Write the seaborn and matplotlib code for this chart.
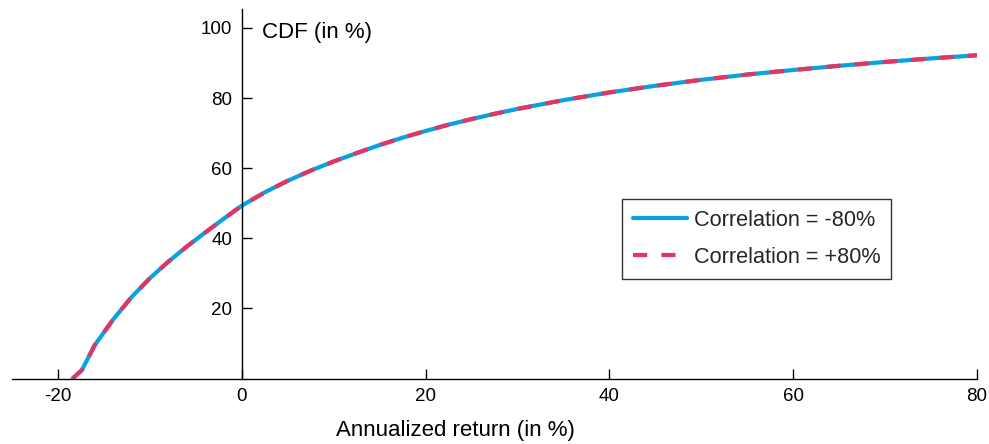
import matplotlib
matplotlib.use("Agg")
import matplotlib.pyplot as plt
import seaborn as sns
import pandas as pd

# Data
returns = [-18.4, -17.4, -16, -14, -12, -10, -8, -6, -4, -2, 0, 2.5, 5, 7.5, 10,
           12.5, 15, 17.5, 20, 22.5, 25, 27.5, 30, 35, 40, 45, 50, 55, 60, 65, 70,
           75, 80]
cdf_neg80 = [0, 2.4, 9.5, 16.8, 23.2, 28.6, 33.3, 37.6, 41.6, 45.5, 49.3, 53.1,
             56.4, 59.3, 61.9, 64.3, 66.6, 68.7, 70.6, 72.4, 74.0, 75.5, 76.9, 79.4,
             81.6, 83.5, 85.2, 86.7, 88.0, 89.2, 90.3, 91.3, 92.2]
cdf_pos80 = [0, 2.4, 9.5, 16.8, 23.2, 28.6, 33.3, 37.6, 41.6, 45.5, 49.3, 53.1,
             56.4, 59.3, 61.9, 64.3, 66.6, 68.7, 70.6, 72.4, 74.0, 75.5, 76.9, 79.4,
             81.6, 83.5, 85.2, 86.7, 88.0, 89.2, 90.3, 91.3, 92.2]
labels = ["Correlation = -80%", "Correlation = +80%"]
x_ticks = [-20, 0, 20, 40, 60, 80]
y_ticks = [20, 40, 60, 80, 100]

sns.set_theme(style="white")
plt.rcParams["font.family"] = ["Liberation Sans", "DejaVu Sans"]

blue = "#0AA0E2"
red = "#E5345F"

fig = plt.figure(figsize=(9.89, 4.44), dpi=100)
ax = fig.add_axes([12 / 989, 1 - 378.5 / 444, 965 / 989, 369.5 / 444])

df1 = pd.DataFrame({"x": returns, "y": cdf_neg80})
df2 = pd.DataFrame({"x": returns, "y": cdf_pos80})
sns.lineplot(data=df1, x="x", y="y", ax=ax, color=blue, lw=3, label=labels[0],
             estimator=None, sort=False)
sns.lineplot(data=df2, x="x", y="y", ax=ax, color=red, lw=3, label=labels[1],
             estimator=None, sort=False, linestyle=(0, (3.4, 3.4)))

ax.set_xlim(-25, 80)
ax.set_ylim(0, 105.4)
ax.spines["left"].set_position(("data", 0))
ax.spines["bottom"].set_position(("data", 0))
ax.spines["right"].set_visible(False)
ax.spines["top"].set_visible(False)
for s in ("left", "bottom"):
    ax.spines[s].set_color("black")
    ax.spines[s].set_linewidth(1.0)

ax.set_xticks(x_ticks)
ax.set_xticklabels([str(t) for t in x_ticks])
ax.set_yticks(y_ticks)
ax.set_yticklabels([str(t) for t in y_ticks])
ax.tick_params(axis="both", direction="in", length=7, width=1, color="black",
               labelsize=13.5, labelcolor="black", bottom=True, left=True)
ax.tick_params(axis="x", pad=7)
ax.tick_params(axis="y", pad=7)
ax.set_xlabel("")
ax.set_ylabel("")

ax.text(2.2, 98.6, "CDF (in %)", fontsize=16, va="center", ha="left", color="black")
fig.text(455 / 989, 1 - 430 / 444, "Annualized return (in %)", fontsize=16,
         ha="center", va="center", color="black")

leg = ax.legend(loc="upper left", bbox_to_anchor=(622 / 989, 1 - 199 / 444),
                bbox_transform=fig.transFigure, fontsize=15.6, frameon=True,
                fancybox=False, edgecolor="black", handlelength=2.5,
                labelspacing=0.75, borderpad=0.5, handletextpad=0.3,
                borderaxespad=0)
leg.get_frame().set_linewidth(1.0)

fig.savefig("out.png", dpi=100)
